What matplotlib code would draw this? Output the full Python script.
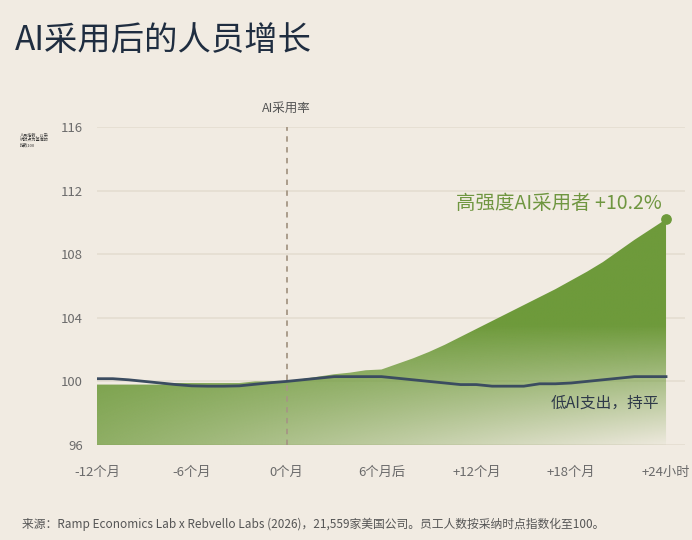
import numpy as np
import matplotlib
matplotlib.use('Agg')
import matplotlib.pyplot as plt
from matplotlib.patches import Polygon
from matplotlib.colors import to_rgb

plt.rcParams['font.family'] = ['Noto Sans CJK SC', 'DejaVu Sans']

# data: months relative to AI adoption, headcount index (adoption = 100)
months = list(range(-12, 25))
high_adopters = [99.8, 99.8, 99.8, 99.8, 99.8, 99.9, 99.9, 99.9, 99.9, 99.9,
                 100.0, 100.0, 100.0, 100.15, 100.3, 100.45, 100.55, 100.7, 100.75,
                 101.1, 101.45, 101.85, 102.3, 102.8, 103.3, 103.8, 104.3, 104.8,
                 105.3, 105.8, 106.35, 106.9, 107.5, 108.2, 108.9, 109.55, 110.2]
low_spend = [100.17, 100.17, 100.1, 100.0, 99.9, 99.8, 99.72, 99.7, 99.7, 99.72,
             99.82, 99.92, 100.0, 100.1, 100.2, 100.3, 100.3, 100.3, 100.3,
             100.2, 100.1, 100.0, 99.9, 99.8, 99.8, 99.7, 99.7, 99.7, 99.85,
             99.85, 99.9, 100.0, 100.1, 100.2, 100.3, 100.3, 100.3]
tick_months = [-12, -6, 0, 6, 12, 18, 24]
tick_labels = ['-12个月', '-6个月', '0个月', '6个月后', '+12个月', '+18个月', '+24小时']
y_ticks = [96, 100, 104, 108, 112, 116]

bg = '#f1ebe2'
green = '#6e9a3b'
navy = '#3b4c60'

fig = plt.figure(figsize=(6.92, 5.4), dpi=100, facecolor=bg)
ax = fig.add_axes([97 / 692, 95 / 540, 588 / 692, 318 / 540])
ax.set_facecolor(bg)
ax.set_xlim(-12, 25.2)
ax.set_ylim(96, 116)

for s in ax.spines.values():
    s.set_visible(False)
ax.set_yticks(y_ticks)
ax.set_xticks(tick_months)
ax.set_xticklabels(tick_labels)
ax.tick_params(length=0, colors='#6b6b6b', labelsize=9.5)
ax.tick_params(axis='y', pad=10)
ax.tick_params(axis='x', pad=15)
ax.grid(axis='y', color='#e6dfd3', linewidth=1.4)
ax.set_axisbelow(True)

# gradient area under the high adopter curve
gx = np.linspace(-12, 24, 300)
gy = np.linspace(110.5, 96, 300)
X, Y = np.meshgrid(gx, gy)
ty = np.clip((103.5 - Y) / 7.5, 0, 1)
tx = (X + 12) / 36
alpha = 1 - ty * (0.25 + 0.72 * tx)
img = np.zeros((300, 300, 4))
img[..., :3] = to_rgb(green)
img[..., 3] = alpha
verts = list(zip(months, high_adopters)) + [(24, 96), (-12, 96)]
poly = Polygon(verts, closed=True, facecolor='none', edgecolor='none')
ax.add_patch(poly)
im = ax.imshow(img, extent=[-12, 24, 96, 110.5], aspect='auto', zorder=2,
               interpolation='bilinear')
im.set_clip_path(poly)

ax.plot(months, low_spend, color=navy, linewidth=2, zorder=3)
ax.scatter([months[-1]], [high_adopters[-1]], s=45, color=green, zorder=4, clip_on=False)

# adoption marker
ax.axvline(0, ymin=0, ymax=1, color='#a59684', linestyle=(0, (3, 3)), linewidth=1.3, zorder=3)
ax.text(0, 117.2, 'AI采用率', ha='center', va='center', fontsize=9, color='#555555')

ax.text(23.7, 111.2, '高强度AI采用者 +10.2%', ha='right', va='center',
        fontsize=14, color='#6f9640')
ax.text(23.6, 98.6, '低AI支出，持平', ha='right', va='center', fontsize=11.3, color='#2f3a4a')

fig.text(15 / 692, 1 - 40 / 540, 'AI采用后的人员增长', ha='left', va='center',
         fontsize=24, color='#1f2d40')
fig.text(20 / 692, 1 - 140 / 540, '人员指数，以采\n纳时点为基准的\n指数100', ha='left',
         va='center', fontsize=3, color='#333333', linespacing=1.2)
fig.text(22 / 692, 1 - 524 / 540,
         '来源：Ramp Economics Lab x Rebvello Labs (2026)，21,559家美国公司。员工人数按采纳时点指数化至100。',
         ha='left', va='center', fontsize=8.5, color='#555555')

fig.savefig('out.png', dpi=100, facecolor=bg)
